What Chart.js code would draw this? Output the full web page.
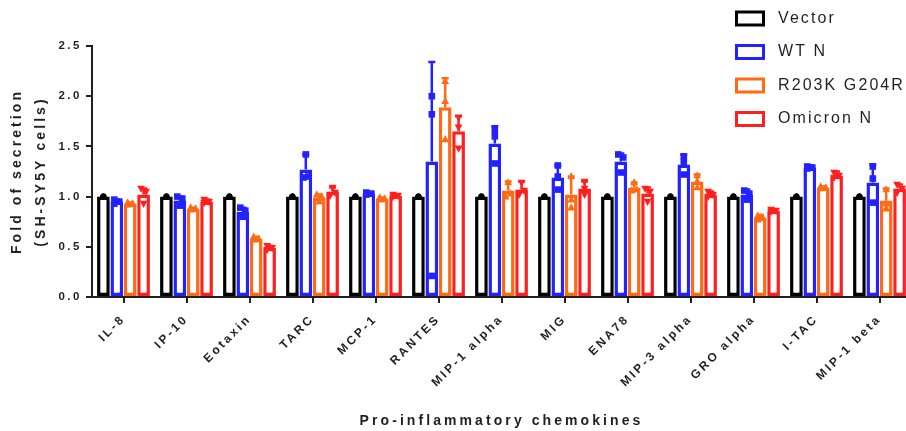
<!DOCTYPE html>
<html><head><meta charset="utf-8">
<script src="https://cdn.jsdelivr.net/npm/chart.js@4.4.1/dist/chart.umd.min.js"></script>
<style>html,body{margin:0;padding:0;background:#fff;overflow:hidden;width:906px;height:431px}canvas{display:block}</style>
</head><body><canvas id="c" width="912" height="431" style="width:912px;height:431px"></canvas>
<script>
const categories = ['IL-8','IP-10','Eotaxin','TARC','MCP-1','RANTES','MIP-1 alpha','MIG','ENA78','MIP-3 alpha','GRO alpha','I-TAC','MIP-1 beta'];
const seriesNames = ['Vector','WT N','R203K G204R','Omicron N'];
const yTickLabels = ['0.0','0.5','1.0','1.5','2.0','2.5'];
const xTitle = 'Pro-inflammatory chemokines';
const yTitle = ['Fold of secretion','(SH-SY5Y cells)'];

const vectorMean = [1.00,1.00,1.00,1.00,1.00,1.00,1.00,1.00,1.00,1.00,1.00,1.00,1.00];
const vectorErr  = [0,0,0,0,0,0,0,0,0,0,0,0,0];
const vectorPts  = [[1,1,1],[1,1,1],[1,1,1],[1,1,1],[1,1,1],[1,1,1],[1,1,1],[1,1,1],[1,1,1],[1,1,1],[1,1,1],[1,1,1],[1,1,1]];

const wtMean = [0.95,0.96,0.85,1.27,1.03,1.35,1.53,1.19,1.35,1.32,1.02,1.29,1.14];
const wtErr  = [0.02,0.04,0.04,0.15,0.01,0.99,0.17,0.12,0.08,0.10,0.05,0.02,0.18];
const wtPts  = [[0.97,0.95,0.93],[1.00,0.98,0.91],[0.89,0.86,0.80],[1.42,1.20,1.19],[1.04,1.03,1.02],[2.00,1.82,0.21],[1.66,1.60,1.33],[1.31,1.20,1.07],[1.42,1.39,1.24],[1.40,1.34,1.22],[1.06,1.03,0.97],[1.30,1.29,1.28],[1.30,1.18,0.94]];

const r203kMean = [0.93,0.88,0.58,0.99,0.98,1.89,1.06,1.02,1.09,1.15,0.79,1.09,0.96];
const r203kErr  = [0.01,0.01,0.02,0.03,0.01,0.29,0.09,0.18,0.05,0.07,0.03,0.01,0.12];
const r203kPts  = [[0.94,0.93,0.92],[0.89,0.88,0.87],[0.60,0.58,0.57],[1.02,1.00,0.95],[0.99,0.98,0.97],[2.15,1.95,1.57],[1.14,1.03,1.00],[1.20,0.97,0.89],[1.14,1.07,1.06],[1.21,1.15,1.09],[0.81,0.79,0.77],[1.10,1.09,1.08],[1.07,0.93,0.88]];

const omicronMean = [1.02,0.95,0.49,1.05,1.01,1.65,1.07,1.08,1.03,1.02,0.86,1.21,1.08];
const omicronErr  = [0.06,0.02,0.02,0.04,0.01,0.15,0.08,0.07,0.06,0.03,0.01,0.04,0.04];
const omicronPts  = [[1.08,1.05,0.93],[0.97,0.95,0.94],[0.51,0.49,0.47],[1.09,1.04,1.01],[1.02,1.01,1.00],[1.79,1.69,1.48],[1.14,1.06,1.02],[1.15,1.08,1.02],[1.08,1.05,0.95],[1.05,1.02,1.00],[0.87,0.86,0.85],[1.24,1.21,1.19],[1.12,1.08,1.04]];

const seriesColors = ['#000000','#2222ff','#ff6a13','#ff1f1f'];
const seriesMarkers = ['circle','square','triUp','triDown'];
const INK = '#231f20';

const canvas = document.getElementById('c');
const ctx2d = canvas.getContext('2d');
const fd = Object.getOwnPropertyDescriptor(CanvasRenderingContext2D.prototype, 'font');
Object.defineProperty(ctx2d, 'font', {
  configurable: true,
  get(){ return fd.get.call(this); },
  set(v){
    fd.set.call(this, v);
    const m = /([\d.]+)px/.exec(v);
    if (m && 'letterSpacing' in this) {
      const s = parseFloat(m[1]);
      this.letterSpacing = ((/bold|[6-9]00/.test(v)) ? 0.22 : 0.13) * s + 'px';
    }
  }
});

Chart.defaults.font.family = "'Liberation Sans', Arial, sans-serif";
Chart.defaults.color = INK;

function drawMarker(ctx, type, x, y) {
  ctx.beginPath();
  if (type === 'circle') { ctx.arc(x, y, 3, 0, Math.PI * 2); }
  else if (type === 'square') { ctx.rect(x - 3.3, y - 3.3, 6.6, 6.6); }
  else if (type === 'triUp') { ctx.moveTo(x, y - 4.3); ctx.lineTo(x - 3.9, y + 2.8); ctx.lineTo(x + 3.9, y + 2.8); ctx.closePath(); }
  else { ctx.moveTo(x, y + 4.3); ctx.lineTo(x - 3.9, y - 2.8); ctx.lineTo(x + 3.9, y - 2.8); ctx.closePath(); }
  ctx.fill();
}

const markerPlugin = {
  id: 'errMarkers',
  afterDatasetsDraw(chart) {
    const ctx = chart.ctx, ys = chart.scales.y;
    chart.data.datasets.forEach((ds, di) => {
      const meta = chart.getDatasetMeta(di);
      meta.data.forEach((bar, j) => {
        const x = bar.x;
        ctx.save();
        ctx.strokeStyle = ds.borderColor; ctx.fillStyle = ds.borderColor; ctx.lineWidth = 2.5;
        const e = ds.errValues[j];
        if (e > 0) {
          const yt = ys.getPixelForValue(ds.data[j] + e);
          ctx.beginPath();
          ctx.moveTo(x, bar.y); ctx.lineTo(x, yt);
          ctx.moveTo(x - 3.5, yt); ctx.lineTo(x + 3.5, yt);
          ctx.stroke();
        }
        const pys = ds.pointValues[j].map(v => ys.getPixelForValue(v));
        pys.forEach((py, k) => {
          let dx = 0;
          if (ds.markerType !== 'circle') {
            const near = pys.some((q, m) => m !== k && Math.abs(q - py) < 5);
            if (near) dx = (k % 2 === 0 ? -2.5 : 2.5);
          }
          drawMarker(ctx, ds.markerType, x + dx, py);
        });
        ctx.restore();
      });
    });
  }
};

const legendPlacer = {
  id: 'legendPlacer',
  afterLayout(chart) {
    const lg = chart.legend; if (!lg) return;
    lg.left = 719; lg.top = -7; lg.width = 190; lg.height = 200;
    lg.right = lg.left + lg.width; lg.bottom = lg.top + lg.height;
  }
};

const means = [vectorMean, wtMean, r203kMean, omicronMean];
const errs = [vectorErr, wtErr, r203kErr, omicronErr];
const pts = [vectorPts, wtPts, r203kPts, omicronPts];

new Chart(ctx2d, {
  type: 'bar',
  data: {
    labels: categories,
    datasets: seriesNames.map((n, i) => ({
      label: n, data: means[i], errValues: errs[i], pointValues: pts[i], markerType: seriesMarkers[i],
      backgroundColor: '#ffffff', borderColor: seriesColors[i], borderWidth: 3.5, borderSkipped: false,
      categoryPercentage: 0.85, barPercentage: 0.95
    }))
  },
  options: {
    responsive: false, animation: false, devicePixelRatio: 1,
    layout: { padding: { top: 46, right: 1, left: 0, bottom: 0 } },
    plugins: {
      tooltip: { enabled: false },
      legend: {
        position: 'chartArea', align: 'start',
        labels: {
          boxWidth: 27, boxHeight: 13, padding: 17.5, color: INK,
          font: { size: 16, weight: 'normal' },
          generateLabels(chart) {
            return Chart.defaults.plugins.legend.labels.generateLabels(chart).map(l => Object.assign(l, { text: ' ' + l.text, lineWidth: 3 }));
          }
        }
      }
    },
    scales: {
      x: {
        grid: { offset: false, drawOnChartArea: false, tickLength: 6, lineWidth: 2, color: INK },
        border: { width: 2, color: INK },
        ticks: { autoSkip: false, minRotation: 45, maxRotation: 45, padding: 9, color: INK, font: { weight: 'bold', size: 12 } },
        title: { display: true, text: xTitle, color: INK, font: { weight: 'bold', size: 14 }, padding: { top: 0, bottom: 1 } },
        afterFit(s) { s.height = 134; }
      },
      y: {
        min: 0, max: 2.5,
        grid: { drawOnChartArea: false, tickLength: 6, lineWidth: 2, color: INK },
        border: { width: 2, color: INK },
        ticks: { stepSize: 0.5, padding: 4, color: INK, font: { weight: 'bold', size: 11.5 }, callback: (v, i) => yTickLabels[i] },
        title: { display: true, text: yTitle, color: INK, font: { weight: 'bold', size: 14, lineHeight: 1.714 }, padding: { top: 5, bottom: 0 } },
        afterFit(s) { s.width = 92; }
      }
    }
  },
  plugins: [markerPlugin, legendPlacer]
});
</script>
</body></html>
